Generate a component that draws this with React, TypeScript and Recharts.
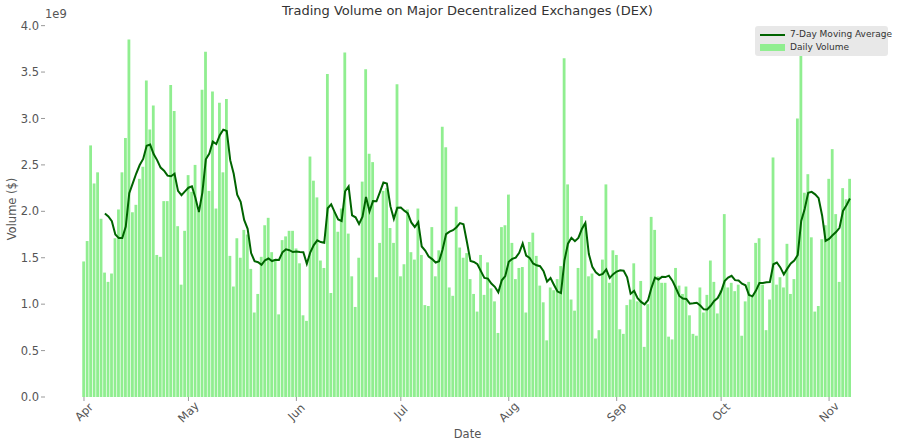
import React from 'react';
import { ComposedChart, Bar, Line, XAxis, YAxis } from 'recharts';

document.body.style.margin = '0';

// daily DEX volume in units of 1e9 $, one value per day starting Apr 1
const dailyVolume = [
  1.46, 1.68, 2.71, 2.30, 2.42, 1.92, 1.34, 1.24, 1.33, 1.71,
  2.02, 2.42, 2.79, 3.85, 1.99, 2.07, 2.35, 2.48, 3.41, 2.88,
  3.14, 1.53, 1.51, 2.11, 2.11, 3.36, 3.08, 1.84, 1.21, 1.79,
  2.39, 2.21, 2.50, 2.00, 3.31, 3.72, 2.22, 3.29, 2.03, 3.17,
  2.42, 3.21, 1.52, 1.19, 1.71, 1.50, 1.80, 1.75, 1.38, 0.91,
  1.11, 1.51, 1.85, 1.93, 1.56, 1.48, 0.89, 1.69, 1.73, 1.79,
  1.79, 1.60, 1.44, 0.88, 0.82, 2.59, 2.33, 2.15, 1.47, 1.39,
  3.48, 1.12, 2.00, 1.78, 2.03, 3.71, 1.76, 1.30, 0.97, 1.50,
  2.32, 3.53, 2.62, 2.53, 1.29, 1.66, 2.22, 2.25, 1.82, 1.66,
  3.37, 1.30, 1.43, 2.02, 1.56, 1.48, 2.03, 1.53, 0.99, 0.98,
  1.83, 1.30, 1.58, 2.91, 2.69, 1.18, 1.09, 2.05, 1.61, 1.50,
  1.55, 1.27, 1.11, 0.92, 1.53, 1.10, 1.45, 1.17, 1.03, 0.69,
  1.83, 1.85, 2.18, 1.66, 1.27, 1.39, 1.40, 0.91, 1.67, 1.77,
  1.52, 1.20, 1.02, 0.61, 1.18, 1.15, 1.27, 1.41, 3.65, 2.29,
  1.05, 0.93, 1.39, 1.95, 1.87, 1.30, 1.33, 0.63, 0.72, 1.48,
  2.29, 1.23, 1.58, 1.53, 0.73, 0.68, 0.99, 1.05, 1.44, 1.03,
  1.25, 0.54, 1.00, 1.94, 1.80, 1.30, 1.23, 1.23, 0.65, 0.62,
  1.39, 1.20, 1.11, 1.19, 0.88, 0.68, 0.66, 1.18, 0.91, 1.10,
  1.47, 1.24, 0.90, 1.15, 1.97, 1.18, 1.23, 1.14, 1.21, 0.66,
  1.03, 1.24, 1.08, 1.66, 1.71, 1.21, 0.72, 1.05, 2.58, 1.21,
  1.29, 1.18, 1.65, 1.11, 1.27, 3.00, 3.77, 2.20, 2.40, 1.72,
  0.92, 0.98, 1.70, 1.85, 2.35, 2.67, 1.97, 1.24, 2.25, 2.13,
  2.35,
];

// first day of each month, counted from Apr 1
const monthTickDays = [0, 30, 61, 91, 122, 153, 183, 214];
const monthLabels = ['Apr', 'May', 'Jun', 'Jul', 'Aug', 'Sep', 'Oct', 'Nov'];
const yTicks = [0, 0.5, 1, 1.5, 2, 2.5, 3, 3.5, 4];

const WINDOW = 7;

const chartData = dailyVolume.map((v, i) => {
  let ma: number | null = null;
  if (i >= WINDOW - 1) {
    const slice = dailyVolume.slice(i - WINDOW + 1, i + 1);
    ma = slice.reduce((a, b) => a + b, 0) / WINDOW;
  }
  return { day: i, volume: v, ma };
});

const font = '"DejaVu Sans", sans-serif';
const tickColor = '#555';

const DateTick = ({ x, y, payload }: any) => {
  const label = monthLabels[monthTickDays.indexOf(payload.value)];
  return (
    <text
      transform={`translate(${x},${y + 9}) rotate(-45)`}
      textAnchor="middle"
      dominantBaseline="central"
      fontSize={11.5}
      fontFamily={font}
      fill={tickColor}
    >
      {label}
    </text>
  );
};

export default function App() {
  return (
    <div style={{ position: 'relative', width: 900, height: 447, background: '#fff', fontFamily: font }}>
      <div style={{ position: 'absolute', top: 3, left: 45, width: 845, textAlign: 'center', fontSize: 13, color: '#333' }}>
        Trading Volume on Major Decentralized Exchanges (DEX)
      </div>
      <div style={{ position: 'absolute', top: 7, left: 45, fontSize: 11.5, color: tickColor }}>1e9</div>
      <ComposedChart
        width={900}
        height={447}
        data={chartData}
        margin={{ top: 21, right: 10, bottom: 20, left: 0 }}
      >
        <XAxis
          dataKey="day"
          type="number"
          domain={[-11.2, 231.5]}
          ticks={monthTickDays}
          tick={<DateTick />}
          tickSize={4}
          tickLine={{ stroke: '#999' }}
          axisLine={false}
          height={30}
          allowDataOverflow
          label={{ value: 'Date', position: 'insideBottom', offset: -11, fontSize: 11.5, fill: tickColor, fontFamily: font }}
        />
        <YAxis
          type="number"
          domain={[0, 4.05]}
          ticks={yTicks}
          tickFormatter={(v: number) => v.toFixed(1)}
          tick={{ fontSize: 11.5, fill: tickColor, fontFamily: font }}
          tickSize={4}
          tickLine={{ stroke: '#999' }}
          axisLine={false}
          width={45}
          allowDataOverflow
          label={{ value: 'Volume ($)', angle: -90, position: 'insideLeft', offset: 12, fontSize: 11.5, fill: tickColor, fontFamily: font, style: { textAnchor: 'middle' } }}
        />
        <Bar dataKey="volume" fill="#90EE90" barSize={2.8} isAnimationActive={false} />
        <Line
          dataKey="ma"
          type="linear"
          stroke="#006400"
          strokeWidth={2}
          dot={false}
          activeDot={false}
          connectNulls={false}
          isAnimationActive={false}
        />
      </ComposedChart>
      <div
        style={{
          position: 'absolute',
          left: 755,
          top: 26,
          width: 133,
          height: 30,
          background: '#e8e8e8',
          borderRadius: 3,
          fontSize: 9,
          color: '#333',
          whiteSpace: 'nowrap',
        }}
      >
        <div style={{ position: 'absolute', left: 5, top: 8, width: 25, height: 2, background: '#006400' }} />
        <div style={{ position: 'absolute', left: 35, top: 3 }}>7-Day Moving Average</div>
        <div style={{ position: 'absolute', left: 5, top: 18, width: 25, height: 7, background: '#90EE90' }} />
        <div style={{ position: 'absolute', left: 35, top: 16 }}>Daily Volume</div>
      </div>
    </div>
  );
}
